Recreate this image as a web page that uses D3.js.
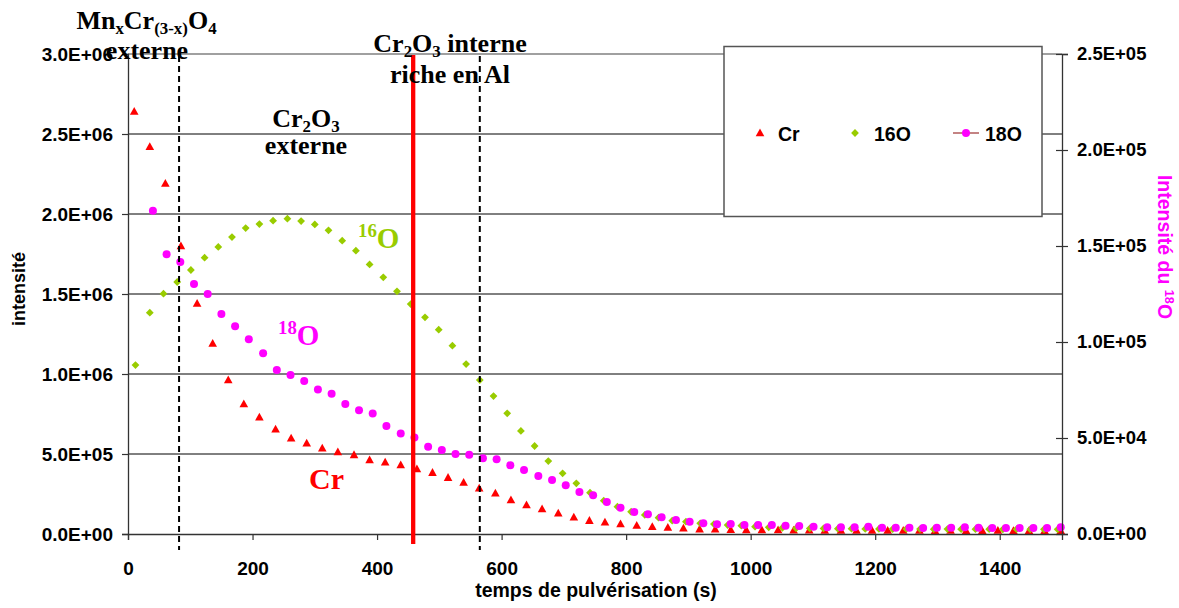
<!DOCTYPE html>
<html>
<head>
<meta charset="utf-8">
<script src="https://cdn.jsdelivr.net/npm/d3@7"></script>
<style>
  html, body { margin: 0; padding: 0; background: #fff; }
  svg { display: block; }
  text { font-family: "Liberation Sans", Arial, sans-serif; }
  .serif { font-family: "Liberation Serif", "Times New Roman", serif; font-weight: bold; }
</style>
</head>
<body>
<svg id="chart" width="1179" height="608"></svg>
<script>
// ---------------- DATA ----------------
const seriesNames = ["Cr", "16O", "18O"];

const crTime = [10, 35, 60, 85, 111, 136, 161, 186, 211, 237, 262, 287, 312, 337, 363, 388, 413, 438, 464, 489,
  514, 539, 564, 590, 615, 640, 665, 691, 716, 741, 766, 791, 817, 842, 867, 892, 918, 943, 968, 993,
  1018, 1044, 1069, 1094, 1119, 1145, 1170, 1195, 1220, 1245, 1271, 1296, 1321, 1346, 1372, 1397, 1422, 1447, 1472, 1498];
const crValues = [2640000, 2420000, 2190000, 1800000, 1440000, 1190000, 962000, 812000, 729000, 654000,
  598000, 567000, 535000, 512000, 494000, 462000, 448000, 431000, 406000, 383000,
  352000, 321000, 285000, 254000, 212000, 181000, 156000, 129000, 104000, 83000,
  73000, 62000, 53000, 45000, 40000, 35000, 30000, 29000, 26000, 25000,
  24000, 24000, 23000, 23000, 22000, 22000, 22000, 21000, 21000, 22000,
  21000, 20000, 21000, 20000, 20000, 21000, 20000, 20000, 20000, 20000];

const o16Time = [12, 35, 57, 79, 101, 123, 145, 167, 189, 211, 233, 256, 278, 300, 322, 344, 366, 388, 410, 432,
  454, 477, 499, 521, 543, 565, 587, 609, 631, 653, 675, 698, 720, 742, 764, 786, 808, 830, 852, 874,
  896, 919, 941, 963, 985, 1007, 1029, 1051, 1073, 1095, 1117, 1140, 1162, 1184, 1206, 1228, 1250, 1272, 1294, 1316,
  1338, 1361, 1383, 1405, 1427, 1449, 1471, 1493];
const o16Values = [1056000, 1383000, 1502000, 1575000, 1650000, 1727000, 1794000, 1856000, 1912000, 1937000,
  1958000, 1971000, 1956000, 1935000, 1898000, 1833000, 1771000, 1685000, 1604000, 1517000,
  1437000, 1354000, 1277000, 1177000, 1062000, 962000, 862000, 754000, 644000, 550000,
  456000, 379000, 317000, 258000, 208000, 171000, 139000, 119000, 102000, 83000,
  77000, 67000, 62000, 56000, 52000,
  46000, 42000, 39000, 36000, 35000, 35000, 33000, 33000, 32000, 32000, 31000, 32000, 31000, 30000, 31000,
  30000, 30000, 30000, 29000, 30000, 29000, 29000, 29000];

const o18Time = [40, 62, 84, 106, 128, 150, 172, 194, 217, 239, 261, 283, 305, 327, 349, 371, 393, 415, 438, 460,
  482, 504, 526, 548, 570, 592, 614, 636, 659, 681, 703, 725, 747, 769, 791, 813, 835, 857, 880, 902,
  924, 946, 968, 990, 1012, 1034, 1056, 1078, 1101, 1123, 1145, 1167, 1189, 1211, 1233, 1255, 1277, 1299, 1322, 1344,
  1366, 1388, 1410, 1432, 1454, 1476, 1498];
const o18Values = [168400, 145700, 141700, 130200, 125000, 114600, 108200, 101400, 94100, 85400,
  82800, 79700, 75300, 73100, 67700, 64400, 62700, 56200, 52300, 50300,
  45500, 43700, 41700, 41300, 39400, 38900, 35800, 33300, 30200, 28100,
  25400, 21900, 20200, 16700, 13700, 11500, 10300, 8700, 7300, 6400,
  5600, 5100, 5200, 4700, 4700, 4700, 4300, 4200, 3800, 3500,
  3500, 3500, 3800, 3300, 3300, 3300, 3100, 3300, 3300, 3500,
  3300, 3100, 3100, 3100, 3100, 3100, 3500];

const xTicks = [0, 200, 400, 600, 800, 1000, 1200, 1400];
const leftTicks = [0, 500000, 1000000, 1500000, 2000000, 2500000, 3000000];
const rightTicks = [0, 50000, 100000, 150000, 200000, 250000];

// vertical marker lines (time in s)
const dashedLines = [82, 565];
const redLine = [458];

// ---------------- SETUP ----------------
const svg = d3.select("#chart");
const L = 128, R = 1062, T = 54, B = 534;
const x = d3.scaleLinear().domain([0, 1500]).range([L, R]);
const yL = d3.scaleLinear().domain([0, 3000000]).range([B, T]);
const yR = d3.scaleLinear().domain([0, 250000]).range([B, T]);

function fmtE(v) {
  if (v === 0) return "0.0E+00";
  const e = Math.floor(Math.log10(v) + 1e-9);
  const m = v / Math.pow(10, e);
  return m.toFixed(1) + "E+" + String(e).padStart(2, "0");
}

// gridlines
svg.append("g").selectAll("line").data(leftTicks.filter(d => d > 0)).join("line")
  .attr("x1", L).attr("x2", R)
  .attr("y1", d => yL(d)).attr("y2", d => yL(d))
  .attr("stroke", d => d === 3000000 ? "#808080" : "#000")
  .attr("stroke-width", d => d === 3000000 ? 1.5 : 1);

// ---------------- DATA MARKERS ----------------
const triPath = "M0,-4.6L4.3,3.2L-4.3,3.2Z";
const diaPath = "M0,-3.9L3.9,0L0,3.9L-3.9,0Z";

svg.append("g").selectAll("path").data(crTime.map((t, i) => [t, crValues[i]])).join("path")
  .attr("d", triPath)
  .attr("transform", d => `translate(${x(d[0])},${yL(d[1])})`)
  .attr("fill", "#ff0000");

svg.append("g").selectAll("path").data(o16Time.map((t, i) => [t, o16Values[i]])).join("path")
  .attr("d", diaPath)
  .attr("transform", d => `translate(${x(d[0])},${yL(d[1])})`)
  .attr("fill", "#99cc00");

svg.append("g").selectAll("circle").data(o18Time.map((t, i) => [t, o18Values[i]])).join("circle")
  .attr("cx", d => x(d[0])).attr("cy", d => yR(d[1])).attr("r", 4)
  .attr("fill", "#ff00ff");

// ---------------- AXES ----------------
const axL = svg.append("g").attr("transform", `translate(${L},0)`)
  .call(d3.axisLeft(yL).tickValues(leftTicks).tickFormat(fmtE).tickSize(6).tickPadding(9));
const axR = svg.append("g").attr("transform", `translate(${R},0)`)
  .call(d3.axisRight(yR).tickValues(rightTicks).tickFormat(fmtE).tickSize(6).tickPadding(9));
axR.selectAll(".tick line").attr("x1", -6);
const axB = svg.append("g").attr("transform", `translate(0,${B})`)
  .call(d3.axisBottom(x).tickValues(xTicks).tickFormat(d3.format("d")).tickSize(6).tickPadding(9));

[axL, axR, axB].forEach(a => {
  a.select(".domain").attr("stroke", "#333").attr("stroke-width", 1.3);
  a.selectAll(".tick line").attr("stroke", "#333").attr("stroke-width", 1.2);
  a.selectAll(".tick text").attr("fill", "#000").style("font-weight", "bold")
    .style("font-family", '"Liberation Sans", Arial, sans-serif');
});
axL.selectAll(".tick text").style("font-size", "19px");
axR.selectAll(".tick text").style("font-size", "18.5px");
axB.selectAll(".tick text").style("font-size", "19px").attr("dy", null).attr("y", 41);

// axis titles
svg.append("text").attr("transform", "translate(25,289) rotate(-90)")
  .attr("text-anchor", "middle").style("font-size", "18px").style("font-weight", "bold")
  .text("intensité");
svg.append("text").attr("x", 596).attr("y", 597)
  .attr("text-anchor", "middle").style("font-size", "19.5px").style("font-weight", "bold")
  .text("temps de pulvérisation (s)");

function rich(parent, xPos, yPos, segs, size, anchor, color, cls) {
  const t = parent.append("text").attr("x", xPos).attr("y", yPos)
    .attr("text-anchor", anchor).attr("fill", color)
    .style("font-size", size + "px").style("font-weight", "bold");
  if (cls) t.attr("class", cls);
  let cur = 0;
  segs.forEach(s => {
    const off = s.sub ? 0.2 * size : s.sup ? -0.38 * size : 0;
    const sp = t.append("tspan").attr("dy", off - cur).text(s.t);
    if (s.sub || s.sup) sp.style("font-size", (size * 0.65) + "px");
    cur = off;
  });
  return t;
}

// right title (rotated clockwise)
const rt = svg.append("g").attr("transform", "translate(1158,247) rotate(90)");
rich(rt, 0, 0, [{t: "Intensité du "}, {t: "18", sup: true}, {t: "O"}], 19.5, "middle", "#ff00ff");

// ---------------- VERTICAL LINES (on top) ----------------
svg.append("g").selectAll("line").data(dashedLines).join("line")
  .attr("x1", d => x(d)).attr("x2", d => x(d)).attr("y1", T + 2).attr("y2", B + 16)
  .attr("stroke", "#000").attr("stroke-width", 2).attr("stroke-dasharray", "6,4");
svg.append("g").selectAll("line").data(redLine).join("line")
  .attr("x1", d => x(d)).attr("x2", d => x(d)).attr("y1", T + 1).attr("y2", B + 10)
  .attr("stroke", "#ff0000").attr("stroke-width", 4.3);

// ---------------- ANNOTATIONS ----------------
const ann = svg.append("g");
rich(ann, 146.5, 29, [{t: "Mn"}, {t: "x", sub: true}, {t: "Cr"}, {t: "(3-x)", sub: true}, {t: "O"}, {t: "4", sub: true}], 26, "middle", "#000", "serif");
rich(ann, 147, 59, [{t: "externe"}], 26, "middle", "#000", "serif");
rich(ann, 306, 127, [{t: "Cr"}, {t: "2", sub: true}, {t: "O"}, {t: "3", sub: true}], 26, "middle", "#000", "serif");
rich(ann, 306, 154, [{t: "externe"}], 26, "middle", "#000", "serif");
rich(ann, 450, 52, [{t: "Cr"}, {t: "2", sub: true}, {t: "O"}, {t: "3", sub: true}, {t: " interne"}], 26, "middle", "#000", "serif");
rich(ann, 450, 83, [{t: "riche en Al"}], 26, "middle", "#000", "serif");
rich(ann, 358, 248, [{t: "16", sup: true}, {t: "O"}], 29, "start", "#99cc00", "serif");
rich(ann, 278, 345, [{t: "18", sup: true}, {t: "O"}], 29, "start", "#ff00ff", "serif");
rich(ann, 309, 489, [{t: "Cr"}], 30, "start", "#ff0000", "serif");

// ---------------- LEGEND ----------------
const lg = svg.append("g");
lg.append("rect").attr("x", 724).attr("y", 46.5).attr("width", 318).attr("height", 170)
  .attr("fill", "#fff").attr("stroke", "#555").attr("stroke-width", 1.5);
const legY = 133;
lg.append("path").attr("d", triPath).attr("transform", `translate(760,${legY})`).attr("fill", "#ff0000");
lg.append("path").attr("d", diaPath).attr("transform", `translate(855,${legY})`).attr("fill", "#99cc00");
lg.append("line").attr("x1", 953).attr("x2", 979).attr("y1", legY).attr("y2", legY)
  .attr("stroke", "#b05a5a").attr("stroke-width", 1.5);
lg.append("circle").attr("cx", 966).attr("cy", legY).attr("r", 4).attr("fill", "#ff00ff");
const legText = [[778, seriesNames[0]], [874, seriesNames[1]], [985, seriesNames[2]]];
lg.selectAll("text").data(legText).join("text")
  .attr("x", d => d[0]).attr("y", legY + 7.5)
  .style("font-size", "19.5px").style("font-weight", "bold").text(d => d[1]);
</script>
</body>
</html>
